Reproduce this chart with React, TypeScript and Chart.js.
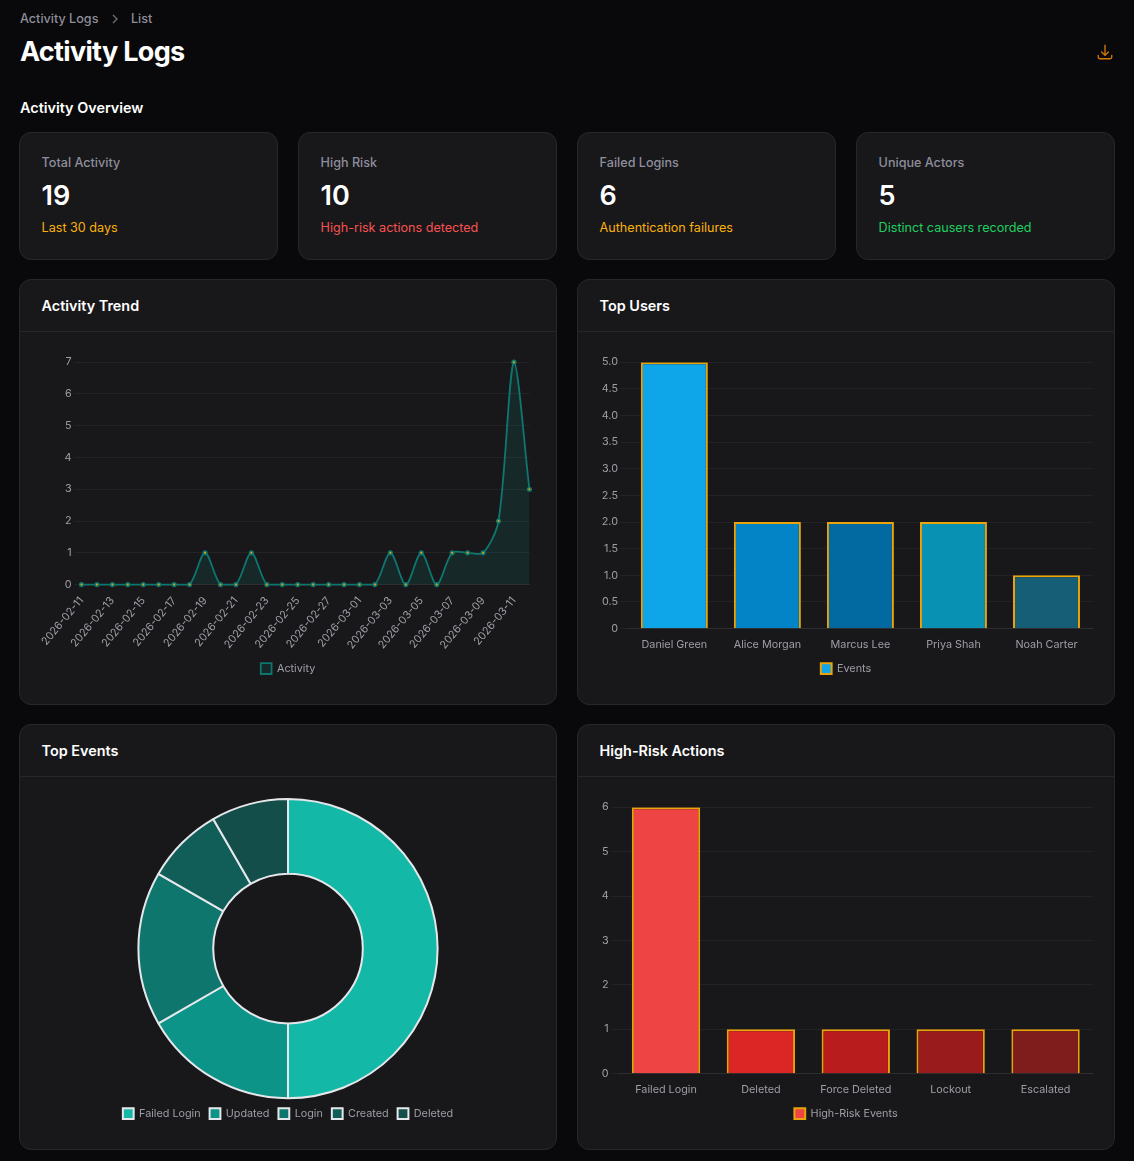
import React, { useEffect, useRef } from "react";
import { Chart, registerables } from "chart.js";

Chart.register(...registerables);

const trendDates = [
  "2026-02-11","2026-02-12","2026-02-13","2026-02-14","2026-02-15","2026-02-16","2026-02-17","2026-02-18","2026-02-19","2026-02-20",
  "2026-02-21","2026-02-22","2026-02-23","2026-02-24","2026-02-25","2026-02-26","2026-02-27","2026-02-28","2026-03-01","2026-03-02",
  "2026-03-03","2026-03-04","2026-03-05","2026-03-06","2026-03-07","2026-03-08","2026-03-09","2026-03-10","2026-03-11","2026-03-12",
];
const trendValues = [0,0,0,0,0,0,0,0,1,0,0,1,0,0,0,0,0,0,0,0,1,0,1,0,1,1,1,2,7,3];
const userNames = ["Daniel Green","Alice Morgan","Marcus Lee","Priya Shah","Noah Carter"];
const userValues = [5,2,2,2,1];
const userColors = ["#0ea5e9","#0284c7","#0369a1","#0891b2","#155e75"];
const eventNames = ["Failed Login","Updated","Login","Created","Deleted"];
const eventValues = [6,2,2,1,1];
const eventColors = ["#14b8a6","#0d9488","#0f766e","#115e59","#134e4a"];
const riskNames = ["Failed Login","Deleted","Force Deleted","Lockout","Escalated"];
const riskValues = [6,1,1,1,1];
const riskColors = ["#ef4444","#dc2626","#b91c1c","#991b1b","#7f1d1d"];
const stats = [
  { label: "Total Activity", value: "19", note: "Last 30 days", color: "#fbb10a" },
  { label: "High Risk", value: "10", note: "High-risk actions detected", color: "#f8524f" },
  { label: "Failed Logins", value: "6", note: "Authentication failures", color: "#fbb10a" },
  { label: "Unique Actors", value: "5", note: "Distinct causers recorded", color: "#1fcf5f" },
];

const FONT = "Inter, sans-serif";
const TEXT = "#9e9ea6";
const MUTED = "#8e8e9b";
const GRID = "rgba(255,255,255,0.05)";
const AMBER = "#eaa308";
const S = 0.9;

Chart.defaults.font.family = FONT;
Chart.defaults.font.size = 12 * S;
Chart.defaults.color = TEXT;

function legend() {
  return {
    position: "bottom" as const,
    labels: { boxWidth: 12 * S, boxHeight: 12 * S, padding: 10 * S, color: TEXT, font: { size: 12 * S, family: FONT } },
  };
}

function axes(yOpts: any) {
  return {
    x: {
      grid: { display: false, color: GRID, tickLength: 8 * S },
      border: { color: GRID },
      ticks: { color: TEXT, font: { size: 12 * S }, padding: 3 * S },
    },
    y: {
      beginAtZero: true,
      grid: { color: GRID, tickLength: 8 * S },
      border: { display: false },
      ticks: { color: TEXT, font: { size: 12 * S }, padding: 3 * S, ...yOpts },
    },
  };
}

function ChartCanvas({ config }: { config: () => any }) {
  const ref = useRef<HTMLCanvasElement>(null);
  useEffect(() => {
    const chart = new Chart(ref.current!, config());
    return () => chart.destroy();
  }, []);
  return (
    <div style={{ position: "absolute", left: 21, right: 21, top: 73, height: 331 }}>
      <canvas ref={ref} />
    </div>
  );
}

const trendConfig = () => ({
  type: "line",
  data: {
    labels: trendDates,
    datasets: [{
      label: "Activity",
      data: trendValues,
      borderColor: "#0f766e",
      backgroundColor: "rgba(20,184,166,0.1)",
      borderWidth: 1.8,
      fill: true,
      tension: 0.3,
      pointRadius: 1.8,
      pointBorderWidth: 1.6,
      pointBackgroundColor: AMBER,
      pointBorderColor: "#0f766e",
    }],
  },
  options: {
    responsive: true, maintainAspectRatio: false, animation: false,
    plugins: { legend: legend() },
    scales: axes({ stepSize: 1 }),
  },
});

const barConfig = (labels: string[], label: string, data: number[], colors: string[], step: number) => () => ({
  type: "bar",
  data: {
    labels,
    datasets: [{ label, data, backgroundColor: colors, borderColor: AMBER, borderWidth: 2 }],
  },
  options: {
    responsive: true, maintainAspectRatio: false, animation: false,
    plugins: { legend: legend() },
    scales: axes({ stepSize: step }),
  },
});

const donutConfig = () => ({
  type: "doughnut",
  data: {
    labels: eventNames,
    datasets: [{ data: eventValues, backgroundColor: eventColors, borderColor: "#e5e7eb", borderWidth: 2 }],
  },
  options: {
    responsive: true, maintainAspectRatio: false, animation: false, cutout: "50%",
    plugins: { legend: legend() },
  },
});

const cardBase: React.CSSProperties = {
  position: "absolute", boxSizing: "border-box", background: "#18181b",
  border: "1px solid #27272a", borderRadius: 12,
};

function ChartCard({ title, left, top, config }: { title: string; left: number; top: number; config: () => any }) {
  return (
    <div style={{ ...cardBase, left, top, width: 538, height: 426 }}>
      <div style={{ position: "absolute", left: 0, right: 0, top: 0, height: 51, borderBottom: "1px solid #27272a", boxSizing: "content-box" }}>
        <div style={{ position: "absolute", left: 21.6, top: 15, fontSize: 14.4, lineHeight: "22px", fontWeight: 600, color: "#fff" }}>{title}</div>
      </div>
      <ChartCanvas config={config} />
    </div>
  );
}

export default function App() {
  return (
    <div style={{ position: "absolute", left: 0, top: 0, width: 1134, height: 1161, overflow: "hidden", background: "#09090b", fontFamily: FONT }}>
      <div style={{ position: "absolute", left: 20, top: 10, fontSize: 12.6, lineHeight: "18px", color: MUTED, fontWeight: 500 }}>Activity Logs</div>
      <svg style={{ position: "absolute", left: 109, top: 13 }} width="12" height="12" viewBox="0 0 12 12" fill="none" stroke="#71717a" strokeWidth="1.3"><path d="M4 2l4 4-4 4" /></svg>
      <div style={{ position: "absolute", left: 131, top: 10, fontSize: 12.6, lineHeight: "18px", color: MUTED, fontWeight: 500 }}>List</div>
      <div style={{ position: "absolute", left: 20, top: 34, fontSize: 27, lineHeight: "36px", fontWeight: 700, letterSpacing: -0.675, color: "#fff" }}>Activity Logs</div>
      <svg style={{ position: "absolute", left: 1096, top: 43 }} width="18" height="18" viewBox="0 0 24 24" fill="none" stroke="#d97706" strokeWidth="1.8" strokeLinecap="round" strokeLinejoin="round">
        <path d="M3 16.5v2.25A2.25 2.25 0 0 0 5.25 21h13.5A2.25 2.25 0 0 0 21 18.75V16.5M16.5 12 12 16.5m0 0L7.5 12m4.5 4.5V3" />
      </svg>
      <div style={{ position: "absolute", left: 20, top: 97, fontSize: 14.4, lineHeight: "22px", fontWeight: 600, color: "#fff" }}>Activity Overview</div>
      {stats.map((s, i) => (
        <div key={s.label} style={{ ...cardBase, left: 19 + i * 279, top: 132, width: 259, height: 128 }}>
          <div style={{ position: "absolute", left: 21.6, top: 20, fontSize: 12.6, lineHeight: "20px", fontWeight: 500, color: MUTED }}>{s.label}</div>
          <div style={{ position: "absolute", left: 21.6, top: 45, fontSize: 27, lineHeight: "36px", fontWeight: 600, color: "#fff" }}>{s.value}</div>
          <div style={{ position: "absolute", left: 21.6, top: 85, fontSize: 12.6, lineHeight: "20px", color: s.color }}>{s.note}</div>
        </div>
      ))}
      <ChartCard title="Activity Trend" left={19} top={279} config={trendConfig} />
      <ChartCard title="Top Users" left={577} top={279} config={barConfig(userNames, "Events", userValues, userColors, 0.5)} />
      <ChartCard title="Top Events" left={19} top={724} config={donutConfig} />
      <ChartCard title="High-Risk Actions" left={577} top={724} config={barConfig(riskNames, "High-Risk Events", riskValues, riskColors, 1)} />
    </div>
  );
}
